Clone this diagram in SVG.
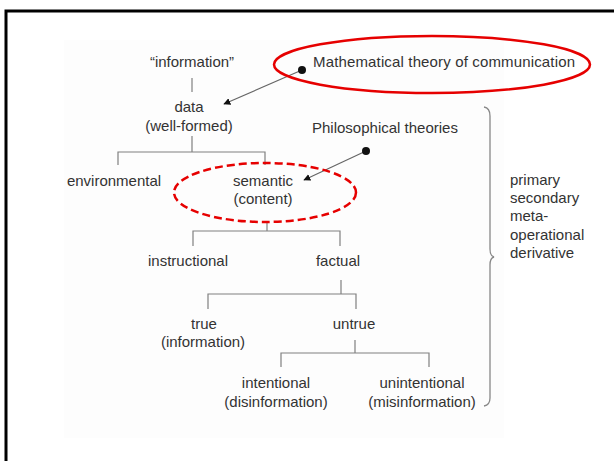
<svg xmlns="http://www.w3.org/2000/svg" width="614" height="461" viewBox="0 0 614 461">
<style>
text{font-family:"Liberation Sans",Arial,sans-serif;font-size:15px;fill:#333;text-anchor:middle}
.l{text-anchor:start}
.tree{fill:none;stroke:#808080;stroke-width:1.2}
.ptr{fill:none;stroke:#666;stroke-width:1.2}
.ring{fill:none;stroke:#e60000;stroke-width:2.5}
</style>
<defs>
<marker id="ah" viewBox="0 0 10 10" refX="9" refY="5" markerWidth="7" markerHeight="7" markerUnits="userSpaceOnUse" orient="auto"><path d="M0,0L10,5L0,10z" fill="#111"/></marker>
<marker id="dot" viewBox="0 0 10 10" refX="5" refY="5" markerWidth="8" markerHeight="8" markerUnits="userSpaceOnUse"><circle cx="5" cy="5" r="5" fill="#111"/></marker>
</defs>
<rect width="614" height="461" fill="#fff"/>
<rect x="64" y="40" width="440" height="398" fill="#fdfdfd"/>
<path d="M6,462V11H615" fill="none" stroke="#000" stroke-width="3"/>
<g id="connectors">
<path class="tree" d="M192,78V92"/>
<path class="tree" d="M192,136V152M118,165V152H265V165"/>
<path class="tree" d="M267,222V231M193,246V231H340V246"/>
<path class="tree" d="M341,280V294M208,309V294H356V309"/>
<path class="tree" d="M355,340V353M281,367V353H429V367"/>
<path class="ptr" d="M302,70L224,104" marker-start="url(#dot)" marker-end="url(#ah)"/>
<path class="ptr" d="M366,151L304,180" marker-start="url(#dot)" marker-end="url(#ah)"/>
<path d="M484,107Q490,108 490,116V249Q490,256 494,257Q490,258 490,265V398Q490,405 484,406" fill="none" stroke="#888" stroke-width="1.3"/>
</g>
<g id="n-information"><text x="192" y="67">“information”</text></g>
<g id="n-mtc"><ellipse class="ring" cx="432" cy="64.5" rx="158" ry="28.5"/><text class="l" x="313" y="67" textLength="262">Mathematical theory of communication</text></g>
<g id="n-data"><text x="189" y="112">data</text><text x="189" y="131">(well-formed)</text></g>
<g id="n-phil"><text class="l" x="312" y="133">Philosophical theories</text></g>
<g id="n-env"><text x="114" y="186">environmental</text></g>
<g id="n-semantic"><ellipse class="ring" cx="265" cy="192.5" rx="91" ry="29.5" stroke-dasharray="8 4"/><text x="263" y="186">semantic</text><text x="263" y="204">(content)</text></g>
<g id="n-instr"><text x="188" y="266">instructional</text></g>
<g id="n-factual"><text x="338" y="266">factual</text></g>
<g id="n-true"><text x="204" y="329">true</text><text x="203" y="347">(information)</text></g>
<g id="n-untrue"><text x="354" y="329">untrue</text></g>
<g id="n-intentional"><text x="276" y="388">intentional</text><text x="276" y="407">(disinformation)</text></g>
<g id="n-unintentional"><text x="422" y="388">unintentional</text><text x="422" y="407">(misinformation)</text></g>
<g id="n-levels"><text class="l" x="510" y="185">primary</text><text class="l" x="510" y="203">secondary</text><text class="l" x="510" y="221">meta-</text><text class="l" x="510" y="240">operational</text><text class="l" x="510" y="258">derivative</text></g>
</svg>
